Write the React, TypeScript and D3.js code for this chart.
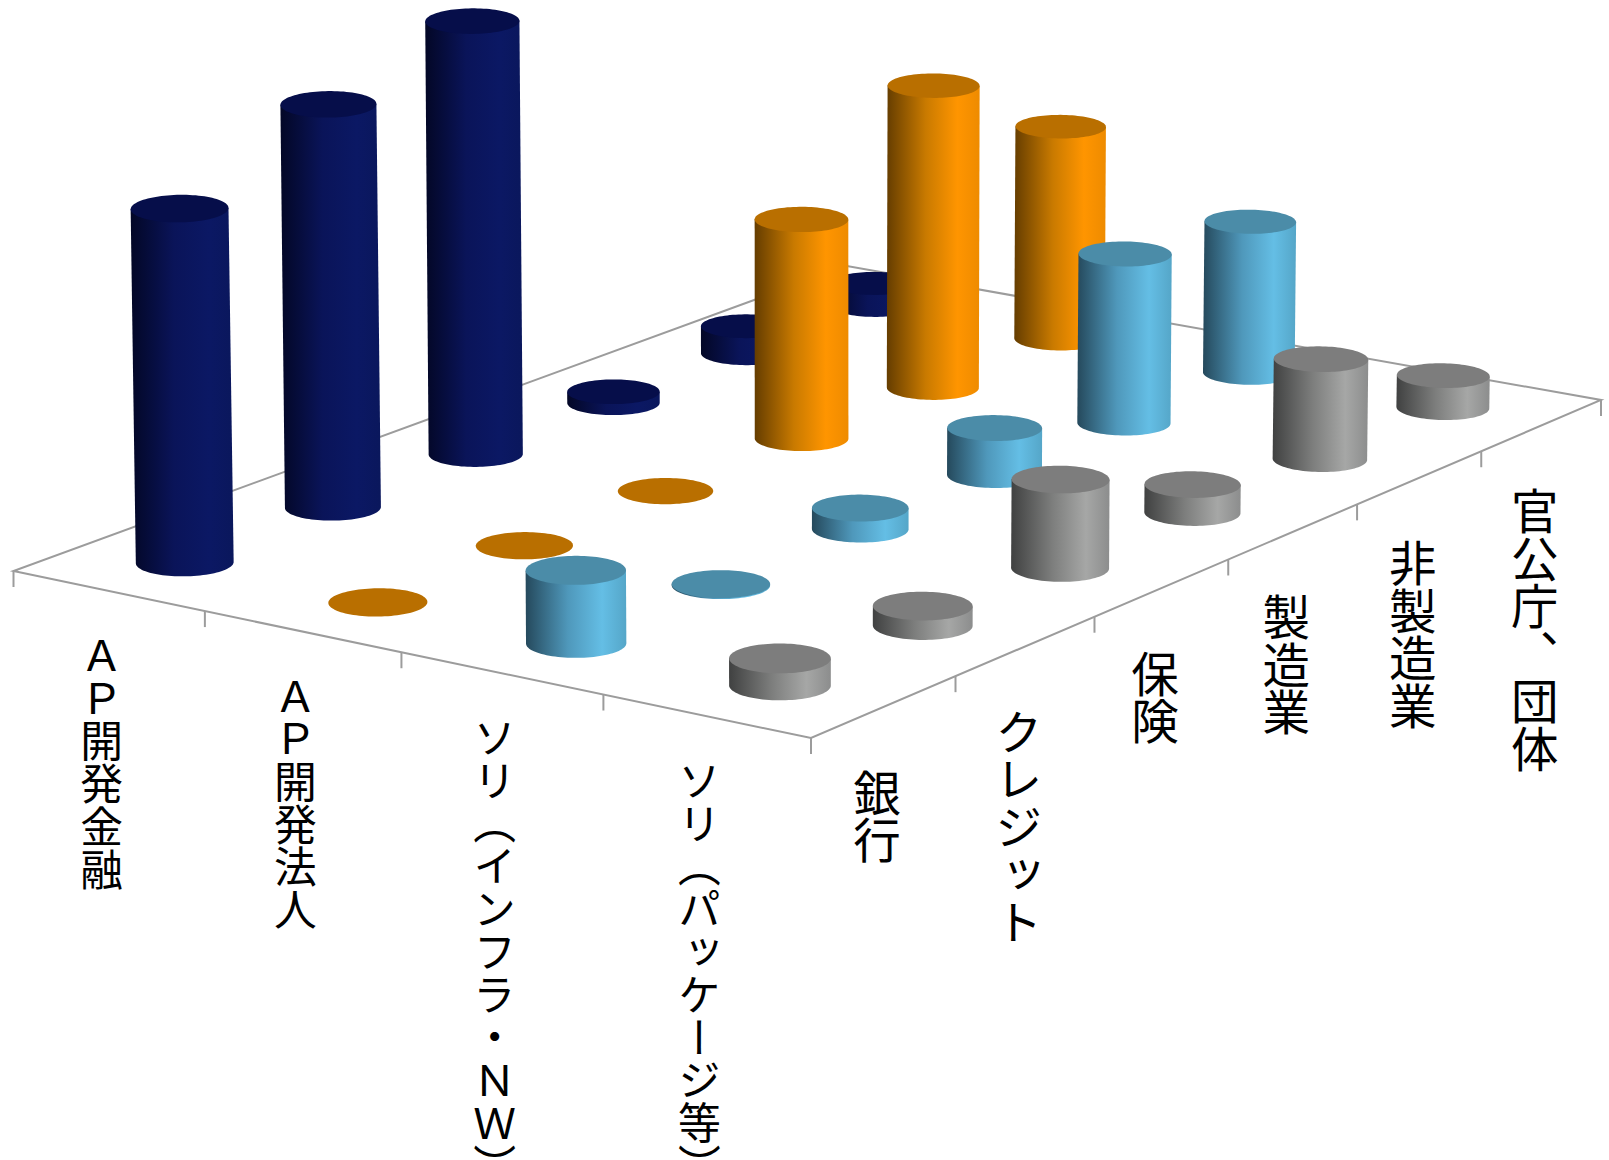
import React from 'react';
import * as d3 from 'd3';

const seriesNames = ['ＡＰ開発金融', 'ＡＰ開発法人', 'ソリ（インフラ・ＮＷ）', 'ソリ（パッケージ等）'];
const categories = ['銀行', 'クレジット', '保険', '製造業', '非製造業', '官公庁、団体'];
const apFinance = [35.4, 40.3, 43.3, 1.1, 2.7, 2.2];
const apCorporate = [0, 0, 0, 21.9, 30.2, 21.2];
const infra = [7.3, 0.1, 2.1, 4.7, 16.9, 15.1];
const packaged = [2.7, 1.95, 8.85, 2.8, 10.0, 3.2];
const seriesValues = [apFinance, apCorporate, infra, packaged];
const topColors = ['#060e4a', '#b96f00', '#4b8ca8', '#7d7d7d'];
const wallStops = [
  ['#030726', '#0a1459', '#0b1864', '#0a175c'],
  ['#653d00', '#c97a00', '#ff9500', '#ee8b00'],
  ['#25495c', '#4f98bb', '#64bee5', '#55a6c8'],
  ['#404141', '#7d7e7d', '#a6a7a6', '#8c8d8d'],
];

type P = [number, number];
const A: P = [13.5, 571];
const B: P = [811, 738];
const C: P = [1601, 400];
const D: P = [847, 266];

function homography(p00: P, p10: P, p11: P, p01: P) {
  const dx1 = p10[0] - p11[0], dx2 = p01[0] - p11[0], sx = p00[0] - p10[0] + p11[0] - p01[0];
  const dy1 = p10[1] - p11[1], dy2 = p01[1] - p11[1], sy = p00[1] - p10[1] + p11[1] - p01[1];
  const det = dx1 * dy2 - dx2 * dy1;
  const g = (sx * dy2 - dx2 * sy) / det;
  const h = (dx1 * sy - sx * dy1) / det;
  const a = p10[0] - p00[0] + g * p10[0], b = p01[0] - p00[0] + h * p01[0], c = p00[0];
  const d = p10[1] - p00[1] + g * p10[1], e = p01[1] - p00[1] + h * p01[1], f = p00[1];
  return (s: number, t: number): P => {
    const w = g * s + h * t + 1;
    return [(a * s + b * t + c) / w, (d * s + e * t + f) / w];
  };
}

const floor = homography(A, B, C, D);
const uScale = d3.scaleBand<string>().domain(seriesNames).range([0, 1]);
const vScale = d3.scaleBand<string>().domain(categories).range([0, 1]);
const yScale = d3.scaleLinear().domain([0, 45]).range([0, 450]);
const line = d3.line<P>();

const RADIUS_U = 0.202 / 4;
const RADIUS_V = 0.2 / 6;
const LEAN = 2.3e-5;
const N = 96;

function Cylinder({ i, j, value }: { i: number; j: number; value: number }) {
  const cu = uScale(seriesNames[i])! + uScale.bandwidth() / 2;
  const cv = vScale(categories[j])! + vScale.bandwidth() / 2;
  const h = yScale(value);
  const base: P[] = d3.range(N).map((k) => {
    const t = (k / N) * Math.PI * 2;
    return floor(cu + RADIUS_U * Math.cos(t), cv + RADIUS_V * Math.sin(t));
  });
  const center = floor(cu, cv);
  const dx = (center[0] - 820) * LEAN * h;
  const top: P[] = base.map(([x, y]) => [x + dx, y - h]);
  const li = d3.minIndex(base, (p) => p[0]);
  const ri = d3.maxIndex(base, (p) => p[0]);
  const arcA: P[] = [];
  for (let k = li; ; k = (k + 1) % N) { arcA.push(base[k]); if (k === ri) break; }
  const arcB: P[] = [];
  for (let k = li; ; k = (k - 1 + N) % N) { arcB.push(base[k]); if (k === ri) break; }
  const lower = d3.mean(arcA, (p) => p[1])! > d3.mean(arcB, (p) => p[1])! ? arcA : arcB;
  const wall: P[] = [top[li], ...lower, top[ri]];
  return (
    <g>
      {h > 0 && <path d={line(wall)! + 'Z'} fill={`url(#wall${i})`} />}
      <path d={line(top)! + 'Z'} fill={topColors[i]} />
    </g>
  );
}

const FRONT_LABEL_OFFSET: P = [-7, 43];
const SIDE_LABEL_OFFSET: P = [-7, 62];
const TICK = 16;
const AXIS = '#9c9c9c';

export default function App() {
  const order: [number, number][] = [];
  seriesNames.forEach((_, i) => {
    for (let j = categories.length - 1; j >= 0; j--) order.push([i, j]);
  });
  const frontTicks = d3.range(seriesNames.length + 1).map((k) => floor(k / seriesNames.length, 0));
  const sideTicks = d3.range(categories.length + 1).map((k) => floor(1, k / categories.length));
  const font = '"Noto Sans CJK JP", "Noto Sans", sans-serif';
  return (
    <svg width={1609} height={1160} style={{ position: 'absolute', left: 0, top: 0, background: '#fff' }}>
      <defs>
        {wallStops.map((s, i) => (
          <linearGradient key={i} id={`wall${i}`} x1="0" x2="1" y1="0" y2="0">
            <stop offset="0" stopColor={s[0]} />
            <stop offset="0.42" stopColor={s[1]} />
            <stop offset="0.76" stopColor={s[2]} />
            <stop offset="1" stopColor={s[3]} />
          </linearGradient>
        ))}
      </defs>
      <path d={line([A, B, C, D])! + 'Z'} fill="none" stroke={AXIS} strokeWidth={2} />
      {[...frontTicks, ...sideTicks.slice(1)].map((p, k) => (
        <line key={k} x1={p[0]} x2={p[0]} y1={p[1]} y2={p[1] + TICK} stroke={AXIS} strokeWidth={2} />
      ))}
      {order.map(([i, j]) => (
        <Cylinder key={`${i}-${j}`} i={i} j={j} value={seriesValues[i][j]} />
      ))}
      {seriesNames.map((name) => {
        const p = floor(uScale(name)! + uScale.bandwidth() / 2, 0);
        return (
          <text key={name} x={p[0] + FRONT_LABEL_OFFSET[0]} y={p[1] + FRONT_LABEL_OFFSET[1]}
            style={{ writingMode: 'vertical-rl' }} fontFamily={font} fontSize={42.8} fill="#000">{name}</text>
        );
      })}
      {categories.map((name) => {
        const p = floor(1, vScale(name)! + vScale.bandwidth() / 2);
        return (
          <text key={name} x={p[0] + SIDE_LABEL_OFFSET[0]} y={p[1] + SIDE_LABEL_OFFSET[1]}
            style={{ writingMode: 'vertical-rl' }} fontFamily={font} fontSize={47.5} fill="#000">{name}</text>
        );
      })}
    </svg>
  );
}
